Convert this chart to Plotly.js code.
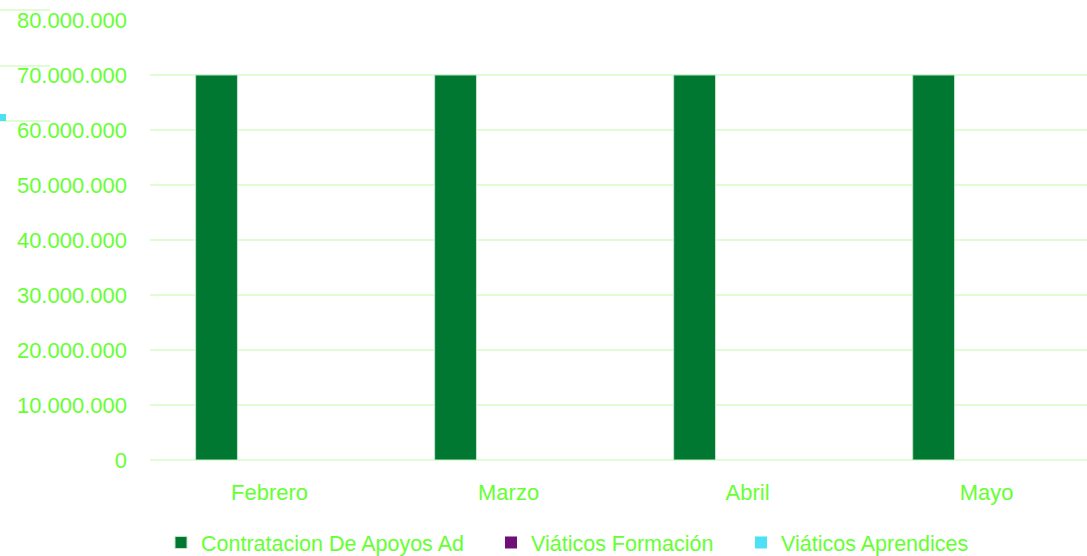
<!DOCTYPE html>
<html>
<head>
<meta charset="utf-8">
<script src="https://cdn.plot.ly/plotly-3.0.1.min.js"></script>
<style>html,body{margin:0;padding:0;background:#fff;}#chart{width:1087px;height:556px;}</style>
</head>
<body>
<div id="chart"></div>
<script>
const months = ["Febrero", "Marzo", "Abril", "Mayo"];
const contratacion = [70000000, 70000000, 70000000, 70000000];
const viaticosFormacion = [0, 0, 0, 0];
const viaticosAprendices = [0, 0, 0, 0];
const seriesNames = ["Contratacion De Apoyos Ad", "Viáticos Formación", "Viáticos Aprendices"];
const yTicks = [0, 10000000, 20000000, 30000000, 40000000, 50000000, 60000000, 70000000, 80000000];

const textColor = "#66FF33";
const gridColor = "#E0FCD4";
const font = {family: "Liberation Sans, Arial, sans-serif", size: 22, color: textColor};
const legFont = {family: "Liberation Sans, Arial, sans-serif", size: 21.5, color: textColor};

const traces = [
  {type: "bar", name: seriesNames[0], x: months, y: contratacion, legend: "legend",
   marker: {color: "#007832", line: {color: "#BFE6C8", width: 1}}},
  {type: "bar", name: seriesNames[1], x: months, y: viaticosFormacion, legend: "legend2",
   marker: {color: "#6E1077", line: {width: 0}}},
  {type: "bar", name: seriesNames[2], x: months, y: viaticosAprendices, legend: "legend3",
   marker: {color: "#4DE1F5", line: {width: 0}}}
];

const W = 937, H = 440;
function px(x) { return (x - 150) / W; }
function py(y) { return (460 - y) / H; }
function leg(left) {
  return {orientation: "h", x: px(left), xanchor: "left", y: py(542.5), yanchor: "middle",
          font: legFont, itemclick: false, bgcolor: "rgba(0,0,0,0)"};
}

const layout = {
  width: 1087, height: 556,
  margin: {l: 150, r: 0, t: 20, b: 96, autoexpand: false},
  paper_bgcolor: "#ffffff", plot_bgcolor: "#ffffff",
  separators: ",.",
  font: font,
  barmode: "group",
  bargap: 0.335,
  bargroupgap: 0.21,
  showlegend: true,
  legend: leg(161),
  legend2: leg(491),
  legend3: leg(741),
  xaxis: {type: "category", range: [-0.5, 3.42], showgrid: false, zeroline: false,
          showline: false, ticks: "", ticklabelstandoff: 17, tickfont: font, fixedrange: true},
  yaxis: {range: [0, 80000000], tickvals: yTicks, tickformat: ",d",
          showgrid: true, gridcolor: gridColor, gridwidth: 2,
          zeroline: true, zerolinecolor: gridColor, zerolinewidth: 2,
          showline: false, ticks: "", ticklabelstandoff: 22, tickfont: font, fixedrange: true},
  shapes: [
    {type: "line", xref: "paper", yref: "paper", x0: px(0), x1: px(50), y0: py(10), y1: py(10), line: {color: gridColor, width: 2}},
    {type: "line", xref: "paper", yref: "paper", x0: px(0), x1: px(50), y0: py(66), y1: py(66), line: {color: gridColor, width: 2}},
    {type: "line", xref: "paper", yref: "paper", x0: px(0), x1: px(50), y0: py(121), y1: py(121), line: {color: gridColor, width: 2}},
    {type: "rect", xref: "paper", yref: "paper", x0: px(0), x1: px(6), y0: py(121), y1: py(114), fillcolor: "#4DE1F5", line: {width: 0}}
  ]
};

Plotly.newPlot("chart", traces, layout, {displayModeBar: false, staticPlot: true});
</script>
</body>
</html>
